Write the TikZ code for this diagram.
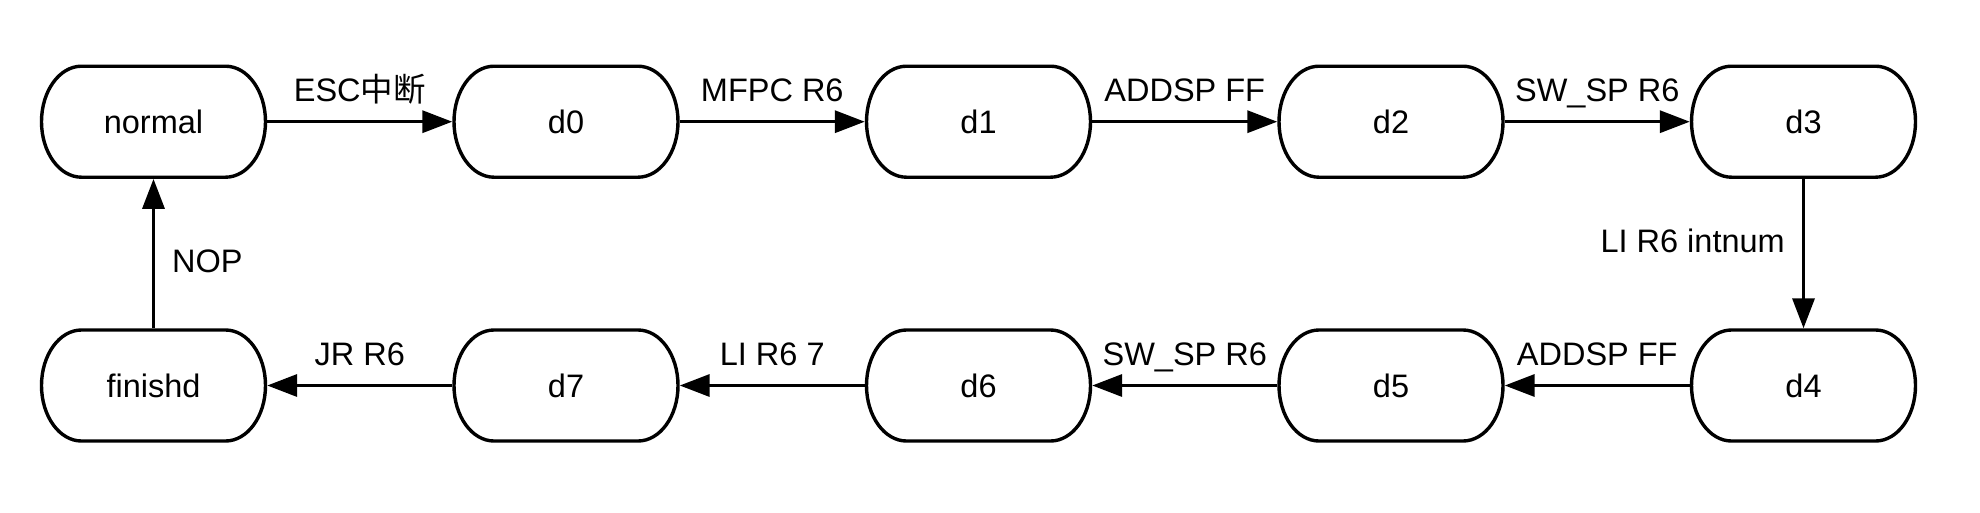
\documentclass[tikz,border=0pt]{standalone}
\usepackage{fontspec}
\setmainfont{Liberation Sans}
\newfontfamily\cjk{Noto Sans CJK SC}
\usetikzlibrary{arrows.meta}
\begin{document}
\begin{tikzpicture}[x=1pt,y=-1pt,
  statebox/.style={line width=3.4pt,
    minimum width=224pt, minimum height=111pt, inner sep=0pt,
    font=\fontsize{32.5}{38}\selectfont},
  outline/.style={draw, line width=3.4pt, line join=round},
  conn/.style={line width=3.4pt, -{Triangle[length=30pt,width=22pt]}},
  lbl/.style={font=\fontsize{32.5}{38}\selectfont, inner sep=0pt},
  toplbl/.style={lbl, anchor=base, yshift=20pt}]
\useasboundingbox (0,0) rectangle (1980,512);
% top row
\node[statebox] (normal) at (153.5,121.7) {normal};
\node[statebox] (d0) at (566,121.7) {d0};
\node[statebox] (d1) at (978.5,121.7) {d1};
\node[statebox] (d2) at (1391,121.7) {d2};
\node[statebox] (d3) at (1803.5,121.7) {d3};
% bottom row
\node[statebox] (finishd) at (153.5,385.5) {finishd};
\node[statebox] (d7) at (566,385.5) {d7};
\node[statebox] (d6) at (978.5,385.5) {d6};
\node[statebox] (d5) at (1391,385.5) {d5};
\node[statebox] (d4) at (1803.5,385.5) {d4};
% outlines with elliptical ends
\foreach \n in {normal,d0,d1,d2,d3,finishd,d7,d6,d5,d4}{
  \draw[outline] ([xshift=41.7pt,yshift=-1.7pt]\n.north west)
    -- ([xshift=-41.7pt,yshift=-1.7pt]\n.north east)
    arc[start angle=90, end angle=-90, x radius=40pt, y radius=55.5pt]
    -- ([xshift=41.7pt,yshift=1.7pt]\n.south west)
    arc[start angle=270, end angle=90, x radius=40pt, y radius=55.5pt]
    -- cycle;
}
% connectors
\draw[conn] (normal) -- node[toplbl] {ESC{\cjk 中断}} (d0);
\draw[conn] (d0) -- node[toplbl] {MFPC R6} (d1);
\draw[conn] (d1) -- node[toplbl] {ADDSP FF} (d2);
\draw[conn] (d2) -- node[toplbl] {SW\_SP R6} (d3);
\draw[conn] (d3) -- node[lbl, anchor=base east, xshift=-17pt, yshift=1pt] {LI R6 intnum} (d4);
\draw[conn] (d4) -- node[toplbl] {ADDSP FF} (d5);
\draw[conn] (d5) -- node[toplbl] {SW\_SP R6} (d6);
\draw[conn] (d6) -- node[toplbl] {LI R6 7} (d7);
\draw[conn] (d7) -- node[toplbl] {JR R6} (finishd);
\draw[conn] (finishd) -- node[lbl, anchor=base west, xshift=17pt, yshift=-19pt] {NOP} (normal);
\end{tikzpicture}
\end{document}
